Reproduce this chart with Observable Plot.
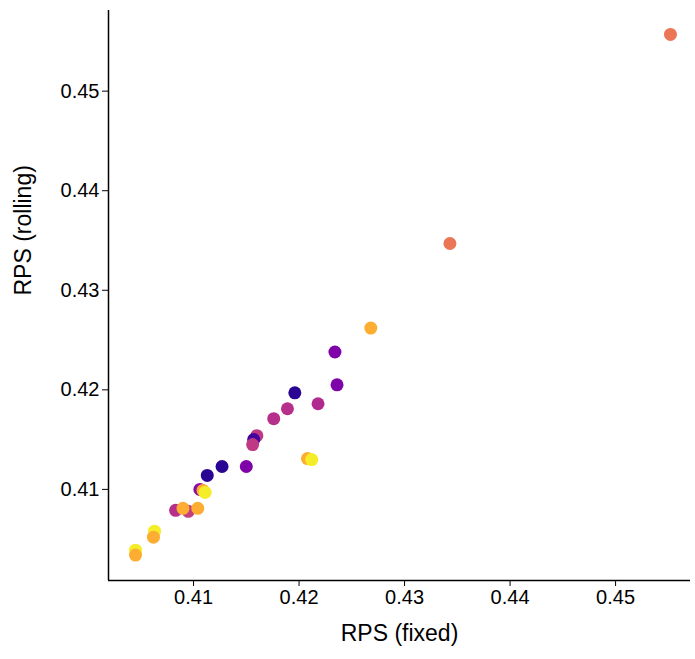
<!DOCTYPE html>
<html>
<head>
<script src="https://cdn.jsdelivr.net/npm/d3@7"></script>
<script src="https://cdn.jsdelivr.net/npm/@observablehq/plot@0.6"></script>
<style>body{margin:0;background:#fff;}</style>
</head>
<body>
<div id="chart"></div>
<script>
// RPS fixed vs rolling; shade is a 0..1 position on the plasma scale
const fixed   = [0.4552,0.4343,0.4268,0.4234,0.4236,0.4196,0.4218,0.4189,0.4176,0.4160,0.4157,0.4156,0.4150,0.4127,0.4113,0.4208,0.4212,0.4106,0.4109,0.4111,0.4083,0.4095,0.4090,0.4104,0.4063,0.4062,0.4045,0.4045];
const rolling = [0.4557,0.4347,0.4262,0.4238,0.4205,0.4197,0.4186,0.4181,0.4171,0.4154,0.4150,0.4145,0.4123,0.4123,0.4114,0.4131,0.4130,0.4100,0.4099,0.4097,0.4079,0.4078,0.4081,0.4081,0.4058,0.4052,0.4039,0.4034];
const shade   = [0.66,0.66,0.82,0.25,0.25,0.05,0.4,0.42,0.42,0.45,0.1,0.45,0.25,0.05,0.05,0.82,0.97,0.3,0.82,0.97,0.42,0.47,0.82,0.82,0.97,0.82,0.97,0.82];
const xTicks = [0.41,0.42,0.43,0.44,0.45];
const yTicks = [0.41,0.42,0.43,0.44,0.45];

const data = fixed.map((f, i) => ({fixed: f, rolling: rolling[i], shade: shade[i]}));

const chart = Plot.plot({
  width: 695,
  height: 659,
  marginLeft: 108,
  marginBottom: 79,
  marginTop: 10,
  marginRight: 5,
  style: {"font-size": "20px", "font-family": "Liberation Sans, Arial", color: "black", background: "white"},
  x: {domain: [0.40194, 0.4571], ticks: xTicks, tickFormat: d3.format(".2f"), label: null, tickSize: 6},
  y: {domain: [0.40085, 0.4581], ticks: yTicks, tickFormat: d3.format(".2f"), label: null, tickSize: 6},
  color: {type: "linear", scheme: "plasma", domain: [0, 1]},
  marks: [
    Plot.ruleX([0.40194], {stroke: "black", strokeWidth: 1.5}),
    Plot.ruleY([0.40085], {stroke: "black", strokeWidth: 1.5}),
    Plot.dot(data, {x: "fixed", y: "rolling", fill: "shade", r: 6.5}),
    Plot.text(["RPS (fixed)"], {frameAnchor: "bottom", dy: 60, fontSize: 23}),
    Plot.text(["RPS (rolling)"], {frameAnchor: "left", dx: -85, rotate: -90, fontSize: 23})
  ]
});
d3.select("#chart").append(() => chart);
</script>
</body>
</html>
